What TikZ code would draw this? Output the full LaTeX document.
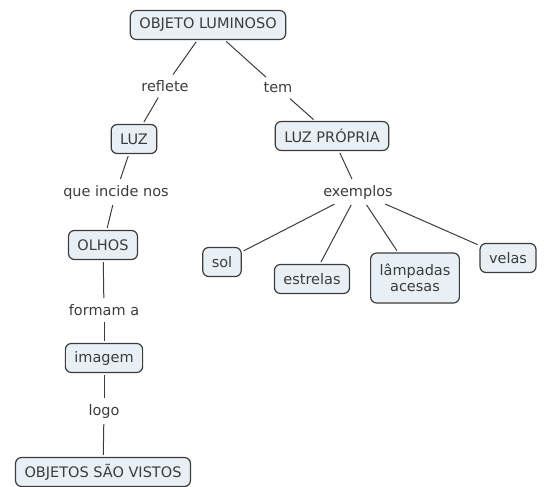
\documentclass[tikz,border=0pt]{standalone}
\usepackage{fontspec}
\setmainfont{DejaVu Sans}
\definecolor{boxfill}{RGB}{232,240,246}
\definecolor{ink}{RGB}{60,60,60}
\tikzset{
  concept/.style={draw=ink,fill=boxfill,line width=1.2pt,rounded corners=6pt,
    inner xsep=9pt,minimum height=29pt,text=ink,align=center},
  linkword/.style={inner sep=4pt,text=ink},
  link/.style={draw=ink,line width=1pt,shorten <=2pt,shorten >=2pt}
}
\begin{document}
\begin{tikzpicture}[x=1pt,y=-1pt,font=\fontsize{14.5}{16.5}\selectfont]
   \useasboundingbox (0,0) rectangle (544,487);
   \node [concept] (objeto) at (208,25) {OBJETO LUMINOSO};
   \node [linkword] (reflete) at (165,86) {reflete};
   \node [linkword] (tem) at (278,88) {tem};
   \node [concept] (luz) at (134,139) {LUZ};
   \node [linkword] (incide) at (116,192) {que incide nos};
   \node [concept] (olhos) at (103,245) {OLHOS};
   \node [linkword] (formam) at (104,310) {formam a};
   \node [concept] (imagem) at (104,358) {imagem};
   \node [linkword] (logo) at (104,411) {logo};
   \node [concept] (vistos) at (103,472) {OBJETOS SÃO VISTOS};
   \node [concept] (propria) at (332,136) {LUZ PRÓPRIA};
   \node [linkword] (exemplos) at (358,192) {exemplos};
   \node [concept] (sol) at (222,262) {sol};
   \node [concept] (estrelas) at (312,279) {estrelas};
   \node [concept,minimum height=50pt] (lampadas) at (415,278) {lâmpadas\\acesas};
   \node [concept] (velas) at (508,258) {velas};
   \draw [link] (objeto) -- (reflete);
   \draw [link] (reflete) -- (luz);
   \draw [link] (objeto) -- (tem);
   \draw [link] (tem) -- (propria);
   \draw [link] (luz) -- (incide);
   \draw [link] (incide) -- (olhos);
   \draw [link] (olhos) -- (formam);
   \draw [link] (formam) -- (imagem);
   \draw [link] (imagem) -- (logo);
   \draw [link] (logo) -- (vistos);
   \draw [link] (propria) -- (exemplos);
   \draw [link] (exemplos) -- (sol);
   \draw [link] (exemplos) -- (estrelas);
   \draw [link] (exemplos) -- (lampadas);
   \draw [link] (exemplos) -- (velas);
\end{tikzpicture}
\end{document}
